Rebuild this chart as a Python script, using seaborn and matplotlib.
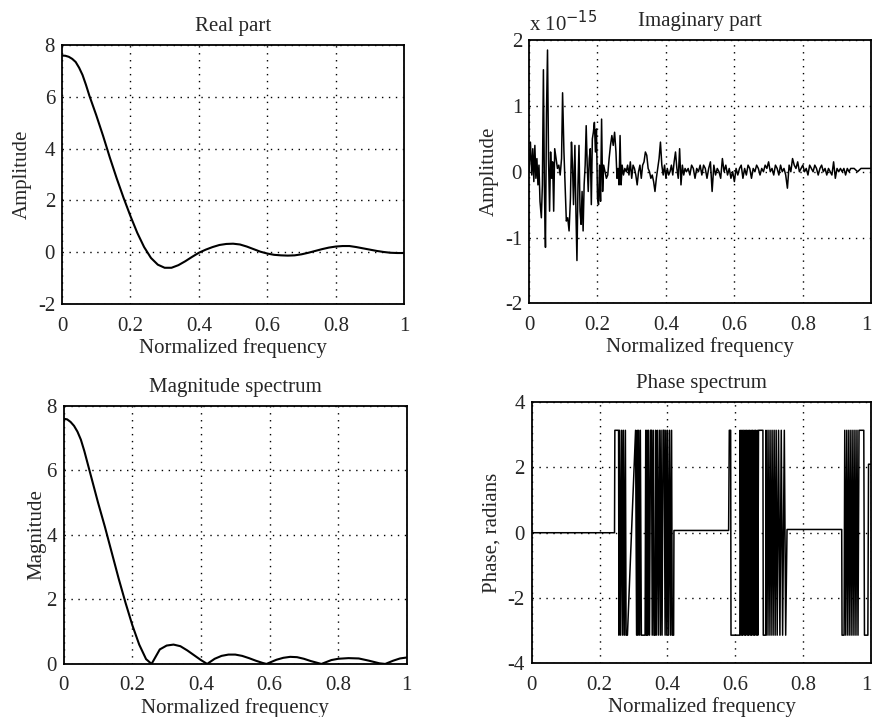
import matplotlib
matplotlib.use("Agg")
import matplotlib.pyplot as plt
import seaborn as sns

# Data (normalized frequency 0..1)
real_freq = [0.0, 0.01, 0.02, 0.03, 0.04, 0.05, 0.06, 0.07, 0.08, 0.10,
             0.12, 0.14, 0.16, 0.18,
             0.20, 0.22, 0.24, 0.26, 0.28, 0.30, 0.32, 0.34, 0.36, 0.38,
             0.40, 0.42, 0.44, 0.46, 0.48, 0.50, 0.52, 0.54, 0.56, 0.58,
             0.60, 0.62, 0.64, 0.66, 0.68, 0.70, 0.72, 0.74, 0.76, 0.78,
             0.80, 0.82, 0.84, 0.86, 0.88, 0.90, 0.92, 0.94, 0.96, 0.98, 1.0]
real_amp = [7.6, 7.59, 7.55, 7.47, 7.35, 7.13, 6.85, 6.47, 6.05, 5.3,
            4.5, 3.65, 2.85, 2.1,
            1.4, 0.75, 0.2, -0.22, -0.48, -0.6, -0.6, -0.5, -0.35, -0.18,
            -0.02, 0.1, 0.2, 0.28, 0.32, 0.33, 0.3, 0.22, 0.12, 0.02,
            -0.05, -0.1, -0.12, -0.13, -0.12, -0.08, -0.02, 0.05, 0.12, 0.18,
            0.22, 0.24, 0.24, 0.2, 0.15, 0.1, 0.05, 0.01, -0.02, -0.03, -0.03]

mag_freq = [0.0, 0.01, 0.02, 0.03, 0.04, 0.05, 0.06, 0.08, 0.10, 0.12,
            0.14, 0.16, 0.18,
            0.20, 0.22, 0.24, 0.256, 0.28, 0.30, 0.32, 0.34, 0.36, 0.38,
            0.40, 0.418, 0.44, 0.46, 0.48, 0.50, 0.52, 0.54, 0.56, 0.58,
            0.591, 0.62, 0.64, 0.66, 0.68, 0.70, 0.72, 0.751, 0.78, 0.80,
            0.83, 0.86, 0.89, 0.92, 0.937, 0.96, 0.98, 1.0]
mag_val = [7.6, 7.58, 7.5, 7.38, 7.2, 6.95, 6.6, 5.8, 5.0, 4.25,
           3.45, 2.65, 1.9,
           1.2, 0.6, 0.15, 0.0, 0.45, 0.57, 0.6, 0.55, 0.42, 0.27,
           0.12, 0.0, 0.16, 0.25, 0.29, 0.29, 0.25, 0.18, 0.1, 0.03,
           0.0, 0.13, 0.19, 0.22, 0.21, 0.16, 0.09, 0.0, 0.12, 0.16,
           0.18, 0.17, 0.1, 0.02, 0.0, 0.1, 0.17, 0.2]

# imaginary part, in units of 1e-15
imag_freq = [0.000, 0.004, 0.008, 0.011, 0.014, 0.017, 0.020, 0.023, 0.026, 0.029,
             0.032, 0.036, 0.039, 0.042, 0.045, 0.048, 0.051, 0.054, 0.057, 0.060,
             0.063, 0.066, 0.069, 0.072, 0.075, 0.079, 0.083, 0.087, 0.091, 0.095,
             0.098, 0.102, 0.106, 0.109, 0.113, 0.117, 0.121, 0.124, 0.127, 0.130,
             0.134, 0.137, 0.140, 0.143, 0.146, 0.149, 0.152, 0.155, 0.158, 0.161,
             0.164, 0.167, 0.170, 0.173, 0.176, 0.179, 0.182, 0.185, 0.188, 0.191,
             0.194, 0.197, 0.200, 0.203, 0.206, 0.209, 0.212, 0.215, 0.218, 0.222,
             0.226, 0.230, 0.234, 0.238, 0.242, 0.246, 0.250, 0.254, 0.257, 0.260,
             0.263, 0.266, 0.269, 0.272, 0.276, 0.280, 0.284, 0.288, 0.292, 0.296,
             0.300, 0.304, 0.308, 0.312, 0.316, 0.320, 0.324, 0.328, 0.332, 0.336,
             0.340, 0.344, 0.348, 0.352, 0.356, 0.360, 0.364, 0.368, 0.372, 0.376,
             0.380, 0.384, 0.388, 0.392, 0.396, 0.400, 0.404, 0.408, 0.412, 0.416,
             0.420, 0.424, 0.428, 0.432, 0.436, 0.440, 0.444, 0.448, 0.452, 0.456,
             0.460, 0.465, 0.470, 0.475, 0.480, 0.485, 0.490, 0.495, 0.500, 0.505,
             0.510, 0.515, 0.520, 0.525, 0.530, 0.535, 0.540, 0.545, 0.550, 0.555,
             0.560, 0.565, 0.570, 0.575, 0.580, 0.585, 0.590, 0.595, 0.600, 0.605,
             0.610, 0.615, 0.620, 0.625, 0.630, 0.635, 0.640, 0.645, 0.650, 0.655,
             0.660, 0.665, 0.670, 0.675, 0.680, 0.685, 0.690, 0.695, 0.700, 0.705,
             0.710, 0.715, 0.720, 0.725, 0.730, 0.735, 0.740, 0.745, 0.750, 0.755,
             0.760, 0.765, 0.770, 0.775, 0.780, 0.785, 0.790, 0.795, 0.800, 0.805,
             0.810, 0.815, 0.820, 0.825, 0.830, 0.835, 0.840, 0.845, 0.850, 0.855,
             0.860, 0.865, 0.870, 0.875, 0.880, 0.885, 0.890, 0.895, 0.900, 0.905,
             0.910, 0.915, 0.920, 0.925, 0.930, 0.935, 0.940, 0.950, 0.960, 0.970,
             0.980, 0.990, 1.000]
imag_amp = [0.0, 0.45, -0.05, 0.35, -0.15, 0.4, -0.1, 0.2, -0.2, 0.1,
            -0.45, -0.7, -0.2, 1.55, -0.3, -1.15, 0.9, 1.85, 0.2, -0.6,
            0.3, -0.1, 0.15, -0.6, 0.35, 0.2, 0.05, 0.1, -0.05, 0.2,
            1.2, 0.3, -0.3, -0.75, -0.7, -0.9, -0.4, 0.45, 0.1, -0.5,
            0.4, -0.6, -1.35, -0.2, 0.4, -0.6, -0.8, -0.3, -0.9, -0.2,
            0.1, 0.7, 0.1, -0.3, 0.2, 0.35, -0.5, 0.5, 0.6, 0.75,
            0.3, 0.65, -0.4, -0.5, 0.1, -0.45, 0.8, -0.3, 0.1, 0.0,
            -0.1, -0.05, 0.2, 0.4, 0.55, 0.4, 0.6, 0.3, -0.1, 0.05,
            -0.2, 0.55, -0.2, 0.1, -0.05, 0.05, 0.0, 0.1, -0.05, 0.15,
            -0.1, 0.1, 0.05, -0.05, -0.2, 0.0, 0.1, -0.1, 0.1, 0.15,
            0.3, 0.25, 0.05, 0.0, -0.1, -0.05, -0.15, -0.3, -0.1, 0.05,
            0.2, 0.45, 0.1, -0.05, 0.1, -0.1, 0.05, -0.05, 0.0, 0.1,
            -0.05, 0.15, 0.3, 0.05, -0.1, 0.35, -0.2, 0.1, -0.05, 0.05,
            0.0, 0.05, -0.05, 0.1, 0.05, -0.1, 0.05, 0.0, 0.1, -0.05,
            0.1, 0.05, -0.1, 0.05, 0.15, -0.3, 0.1, -0.05, 0.05, 0.0,
            -0.1, 0.2, 0.0, 0.1, -0.05, 0.05, -0.1, 0.0, -0.15, 0.05,
            -0.05, 0.05, 0.1, -0.1, 0.05, -0.05, 0.1, 0.05, -0.1, 0.05,
            0.0, 0.1, 0.05, -0.05, 0.05, 0.0, 0.1, 0.05, 0.15, 0.0,
            0.05, -0.05, 0.1, 0.05, -0.05, 0.1, 0.0, 0.05, -0.05, -0.25,
            0.1, 0.0, 0.2, 0.1, 0.05, 0.15, 0.0, 0.05, 0.1, 0.0,
            0.05, -0.05, 0.1, 0.05, 0.0, 0.1, 0.05, -0.05, 0.05, 0.1,
            0.0, 0.05, -0.05, 0.05, 0.0, -0.05, 0.15, -0.1, 0.05, 0.0,
            0.05, 0.0, 0.05, -0.05, 0.05, 0.0, 0.05, 0.05, 0.0, 0.05,
            0.05, 0.05, 0.05]

P = 3.14
phase_freq = [0.0, 0.244, 0.245, 0.256, 0.257, 0.259, 0.262, 0.265, 0.268, 0.270,
              0.273, 0.276, 0.278, 0.282, 0.306, 0.309, 0.311, 0.313, 0.315, 0.318,
              0.320, 0.323, 0.334, 0.336, 0.338, 0.340, 0.342, 0.344, 0.347, 0.350,
              0.353, 0.355, 0.358, 0.360, 0.363, 0.365, 0.367, 0.370, 0.373, 0.376,
              0.379, 0.381, 0.384, 0.387, 0.390, 0.393, 0.395, 0.398, 0.400, 0.403,
              0.406, 0.409, 0.412, 0.414, 0.418, 0.419,
              0.580, 0.582, 0.586, 0.587, 0.613, 0.614, 0.617, 0.619, 0.621, 0.623,
              0.626, 0.628, 0.630, 0.632, 0.635, 0.637, 0.639, 0.641, 0.644, 0.646,
              0.648, 0.650, 0.653, 0.655, 0.657, 0.659, 0.662, 0.664, 0.666, 0.668,
              0.670, 0.681, 0.682, 0.689, 0.690, 0.693, 0.696, 0.699, 0.702, 0.705,
              0.708, 0.711, 0.714, 0.717, 0.720, 0.723, 0.727, 0.731, 0.735, 0.739,
              0.744, 0.748, 0.752,
              0.913, 0.914, 0.920, 0.922, 0.925, 0.928, 0.931, 0.934, 0.937, 0.940,
              0.943, 0.946, 0.949, 0.952, 0.955, 0.958, 0.961, 0.964, 0.978, 0.980,
              0.990, 0.992, 1.0]
phase_val = [0.0, 0.0, P, P, -P, P, -P, P, -P, P,
             -P, P, -P, -P, P, -P, P, -P, P, -P,
             P, -P, -P, P, -P, P, -P, P, -P, P,
             P, -P, P, -P, -P, P, -P, P, -P, P,
             -P, P, -P, P, P, -P, P, -P, P, -P,
             P, -P, P, -P, -P, 0.07,
             0.07, P, P, -P, -P, P, -P, P, -P, P,
             -P, P, -P, P, -P, P, -P, P, -P, P,
             -P, P, -P, P, -P, P, -P, P, -P, P,
             P, P, -P, -P, P, -P, P, -P, P, -P,
             P, -P, P, -P, P, -P, P, -P, P, -P,
             P, -P, 0.1,
             0.1, -P, -P, P, -P, P, -P, P, -P, P,
             -P, P, -P, P, -P, P, -P, P, P, -P,
             -P, 2.1, 2.1]

sns.set_style("white")
plt.rcParams["font.family"] = ["Liberation Serif", "DejaVu Serif"]
plt.rcParams["axes.unicode_minus"] = False

FS = 15
fig = plt.figure(figsize=(8.73, 7.17), dpi=100)

xticks = [0, 0.2, 0.4, 0.6, 0.8, 1.0]
xtlabels = ["0", "0.2", "0.4", "0.6", "0.8", "1"]


def style(ax, ylim, yticks, title, ylabel, ylabelpad=4, right_col=False):
    ax.set_xlim(0, 1)
    ax.set_ylim(*ylim)
    ax.set_xticks(xticks)
    ax.set_xticklabels(xtlabels)
    ax.set_yticks(yticks)
    ax.set_yticklabels([str(t) for t in yticks])
    ax.tick_params(length=0, labelsize=FS)
    ax.tick_params(axis="x", pad=9)
    ax.tick_params(axis="y", pad=5)
    ax.grid(True, color="black", linestyle=(0, (1, 4)), linewidth=1.0)
    for s in ax.spines.values():
        s.set_visible(True)
        s.set_color("black")
        s.set_linewidth(1.3)
    ax.set_title(title, fontsize=FS, pad=10)
    ax.set_xlabel("Normalized frequency", fontsize=FS, labelpad=2)
    ax.set_ylabel(ylabel, fontsize=FS, labelpad=ylabelpad)
    if right_col:
        # keep the last tick label inside the figure
        ax.get_xticklabels()[-1].set_horizontalalignment("right")


ax1 = fig.add_axes([0.071, 0.576, 0.392, 0.361])
sns.lineplot(x=real_freq, y=real_amp, ax=ax1, color="black", linewidth=1.5,
             sort=False, estimator=None)
style(ax1, (-2, 8), [-2, 0, 2, 4, 6, 8], "Real part", "Amplitude")

ax2 = fig.add_axes([0.606, 0.577, 0.392, 0.367])
sns.lineplot(x=imag_freq, y=imag_amp, ax=ax2, color="black", linewidth=1.1,
             sort=False, estimator=None)
style(ax2, (-2, 2), [-2, -1, 0, 1, 2], "Imaginary part", "Amplitude",
      right_col=True)
ax2.text(0.0, 1.015, "x 10$^{-15}$", transform=ax2.transAxes, fontsize=FS,
         ha="left", va="bottom")

ax3 = fig.add_axes([0.073, 0.074, 0.393, 0.360])
sns.lineplot(x=mag_freq, y=mag_val, ax=ax3, color="black", linewidth=1.5,
             sort=False, estimator=None)
style(ax3, (0, 8), [0, 2, 4, 6, 8], "Magnitude spectrum", "Magnitude",
      ylabelpad=0)

ax4 = fig.add_axes([0.609, 0.075, 0.389, 0.364])
sns.lineplot(x=phase_freq, y=phase_val, ax=ax4, color="black", linewidth=1.1,
             sort=False, estimator=None)
style(ax4, (-4, 4), [-4, -2, 0, 2, 4], "Phase spectrum", "Phase, radians",
      right_col=True)

fig.savefig("out.png", dpi=100)
